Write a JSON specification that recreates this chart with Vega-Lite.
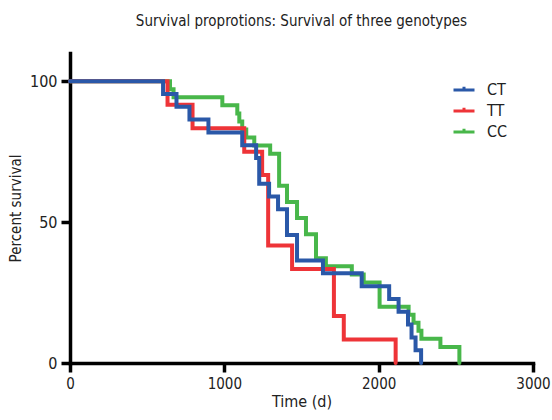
{
  "$schema": "https://vega.github.io/schema/vega-lite/v6.json",
  "autosize": "none",
  "width": 463,
  "height": 310,
  "padding": {"left": 70, "top": 53, "right": 19, "bottom": 57},
  "background": "white",
  "config": {
    "font": "DejaVu Sans Condensed, Liberation Sans Narrow, sans-serif",
    "view": {"stroke": null}
  },
  "title": {
    "text": "Survival proprotions: Survival of three genotypes",
    "fontSize": 15,
    "fontWeight": "normal",
    "color": "#222",
    "frame": "group",
    "anchor": "middle",
    "offset": 24
  },
  "data": {
    "values": [
      {"genotype": "CC", "time": 0, "survival": 100},
      {"genotype": "CC", "time": 648, "survival": 97.14},
      {"genotype": "CC", "time": 671, "survival": 94.29},
      {"genotype": "CC", "time": 987, "survival": 91.43},
      {"genotype": "CC", "time": 1084, "survival": 88.57},
      {"genotype": "CC", "time": 1097, "survival": 85.71},
      {"genotype": "CC", "time": 1116, "survival": 82.86},
      {"genotype": "CC", "time": 1142, "survival": 80},
      {"genotype": "CC", "time": 1194, "survival": 77.14},
      {"genotype": "CC", "time": 1297, "survival": 74.29},
      {"genotype": "CC", "time": 1355, "survival": 62.86},
      {"genotype": "CC", "time": 1406, "survival": 57.14},
      {"genotype": "CC", "time": 1471, "survival": 51.43},
      {"genotype": "CC", "time": 1529, "survival": 45.71},
      {"genotype": "CC", "time": 1594, "survival": 37.14},
      {"genotype": "CC", "time": 1658, "survival": 34.29},
      {"genotype": "CC", "time": 1826, "survival": 31.43},
      {"genotype": "CC", "time": 1903, "survival": 28.57},
      {"genotype": "CC", "time": 2006, "survival": 20},
      {"genotype": "CC", "time": 2194, "survival": 17.14},
      {"genotype": "CC", "time": 2226, "survival": 14.29},
      {"genotype": "CC", "time": 2258, "survival": 11.43},
      {"genotype": "CC", "time": 2277, "survival": 8.57},
      {"genotype": "CC", "time": 2400, "survival": 5.71},
      {"genotype": "CC", "time": 2523, "survival": 0},
      {"genotype": "TT", "time": 0, "survival": 100},
      {"genotype": "TT", "time": 632, "survival": 91.67},
      {"genotype": "TT", "time": 794, "survival": 83.33},
      {"genotype": "TT", "time": 1129, "survival": 75},
      {"genotype": "TT", "time": 1245, "survival": 66.67},
      {"genotype": "TT", "time": 1284, "survival": 41.67},
      {"genotype": "TT", "time": 1439, "survival": 33.33},
      {"genotype": "TT", "time": 1710, "survival": 16.67},
      {"genotype": "TT", "time": 1774, "survival": 8.33},
      {"genotype": "TT", "time": 2110, "survival": 0},
      {"genotype": "CT", "time": 0, "survival": 100},
      {"genotype": "CT", "time": 603, "survival": 95.45},
      {"genotype": "CT", "time": 690, "survival": 90.91},
      {"genotype": "CT", "time": 774, "survival": 86.36},
      {"genotype": "CT", "time": 897, "survival": 81.82},
      {"genotype": "CT", "time": 1116, "survival": 77.27},
      {"genotype": "CT", "time": 1206, "survival": 72.73},
      {"genotype": "CT", "time": 1226, "survival": 63.64},
      {"genotype": "CT", "time": 1290, "survival": 59.09},
      {"genotype": "CT", "time": 1348, "survival": 54.55},
      {"genotype": "CT", "time": 1406, "survival": 45.45},
      {"genotype": "CT", "time": 1471, "survival": 36.36},
      {"genotype": "CT", "time": 1639, "survival": 31.82},
      {"genotype": "CT", "time": 1890, "survival": 27.27},
      {"genotype": "CT", "time": 2068, "survival": 22.73},
      {"genotype": "CT", "time": 2129, "survival": 18.18},
      {"genotype": "CT", "time": 2190, "survival": 13.64},
      {"genotype": "CT", "time": 2213, "survival": 9.09},
      {"genotype": "CT", "time": 2239, "survival": 4.55},
      {"genotype": "CT", "time": 2275, "survival": 0}
    ]
  },
  "mark": {"type": "line", "interpolate": "step-after", "strokeWidth": 4, "strokeJoin": "miter", "strokeCap": "round"},
  "encoding": {
    "x": {
      "field": "time", "type": "quantitative",
      "scale": {"domain": [0, 3000], "nice": false},
      "axis": {
        "title": "Time (d)", "values": [0, 1000, 2000, 3000], "format": "d", "grid": false,
        "domainColor": "black", "domainWidth": 3.5, "domainCap": "square",
        "tickColor": "black", "tickWidth": 3.5, "tickSize": 9,
        "labelFontSize": 15, "labelColor": "#222", "labelPadding": 4, "labelFlush": false,
        "titleFontSize": 16, "titleFontWeight": "normal", "titleColor": "#222", "titlePadding": 2
      }
    },
    "y": {
      "field": "survival", "type": "quantitative",
      "scale": {"domain": [0, 110], "nice": false},
      "axis": {
        "title": "Percent survival", "values": [0, 50, 100], "grid": false,
        "domainColor": "black", "domainWidth": 3.5, "domainCap": "square",
        "tickColor": "black", "tickWidth": 3.5, "tickSize": 9,
        "labelFontSize": 16, "labelColor": "#222", "labelPadding": 4,
        "titleFontSize": 15, "titleFontWeight": "normal", "titleColor": "#222", "titlePadding": 6
      }
    },
    "color": {
      "field": "genotype", "type": "nominal",
      "scale": {"domain": ["CT", "TT", "CC"], "range": ["#2a58a8", "#ee3438", "#48b74a"]},
      "legend": {
        "title": null, "orient": "none", "legendX": 382, "legendY": 25,
        "symbolType": "M-1,0H1M0,0V-0.3", "symbolSize": 441, "symbolStrokeWidth": 3,
        "labelFontSize": 16, "labelColor": "#222", "labelOffset": 11, "rowPadding": 1
      }
    }
  }
}
